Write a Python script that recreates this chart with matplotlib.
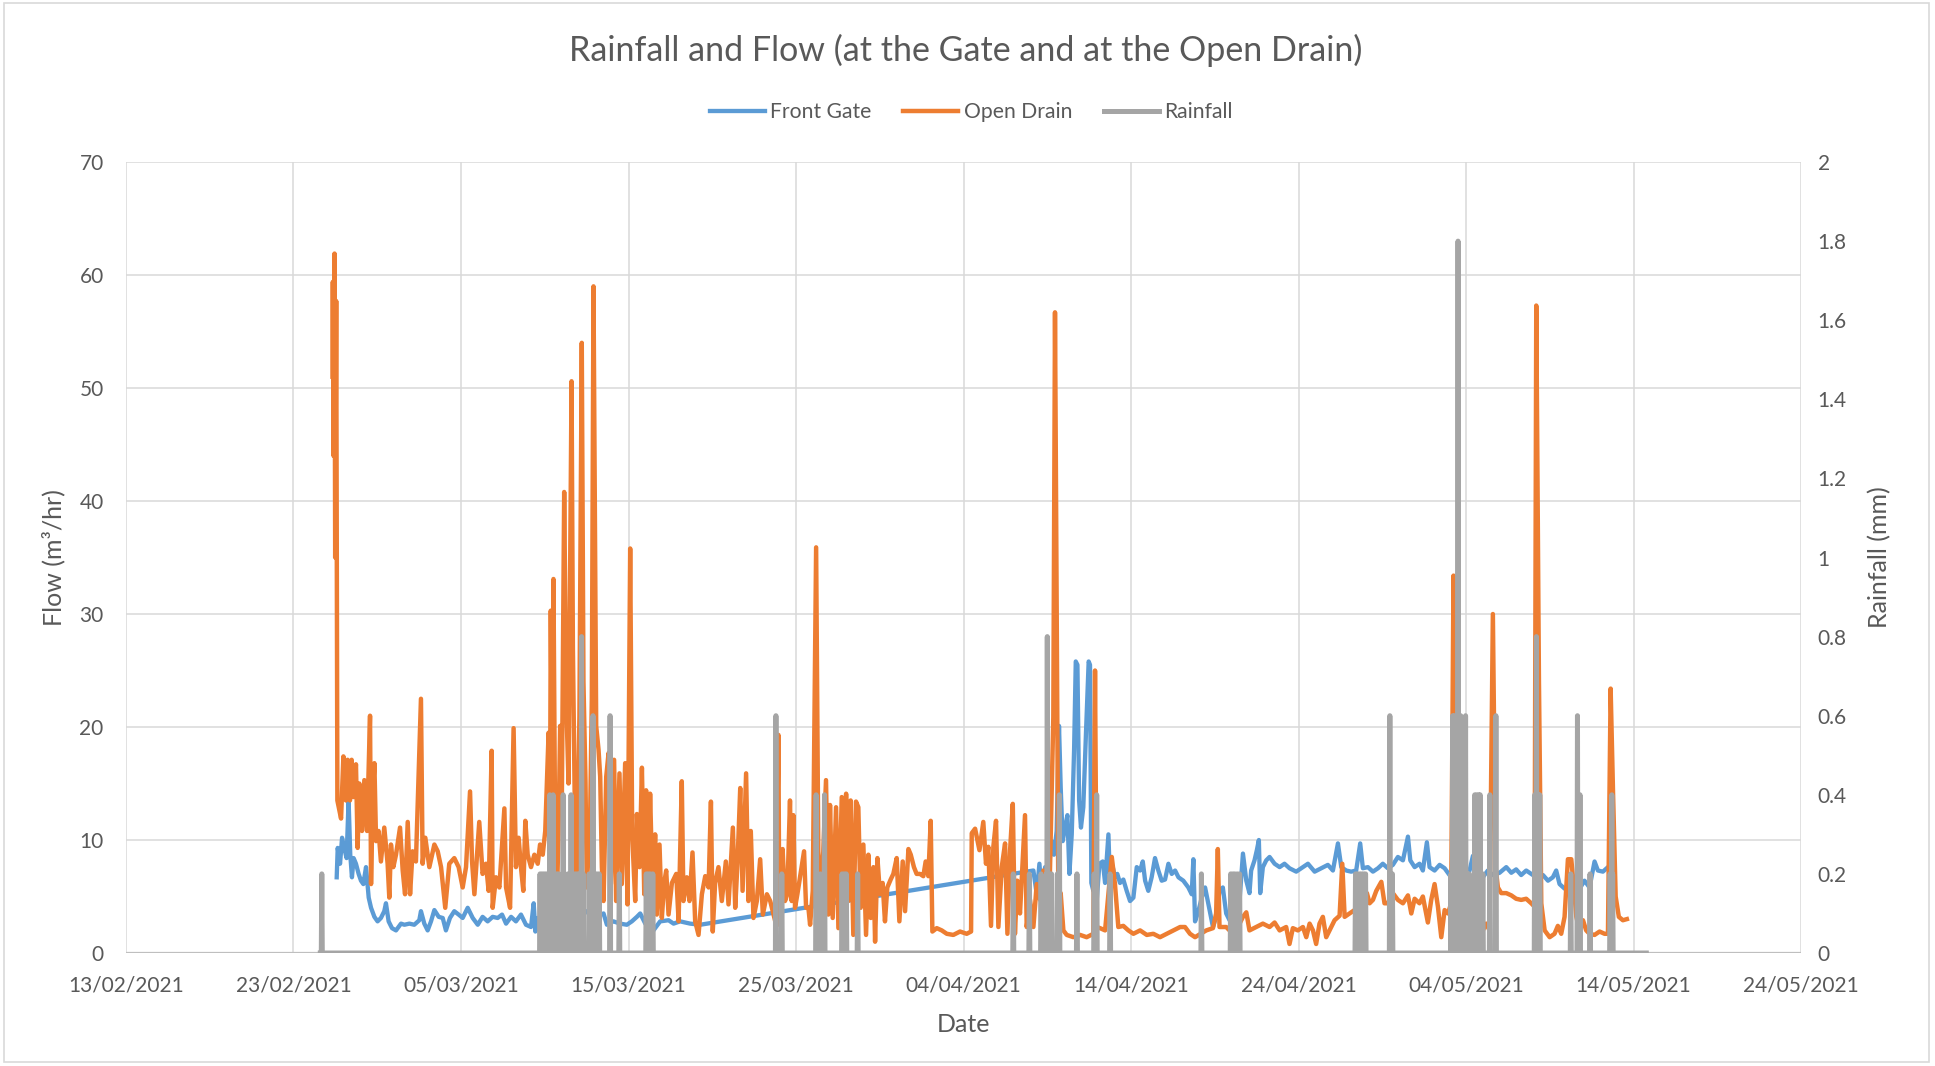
import numpy as np
import pandas as pd
import matplotlib
matplotlib.use("Agg")
import matplotlib.pyplot as plt
import matplotlib.dates as mdates
from matplotlib.patches import Rectangle

plt.rcParams['font.family'] = ['Lato', 'DejaVu Sans']

# all times are days since 13/02/2021 00:00
start = pd.Timestamp('2021-02-13')

gate_days = [12.58, 12.64, 12.78, 12.90, 13.03, 13.17, 13.29, 13.39, 13.49, 13.59, 13.73, 13.89, 14.03, 14.17,
             14.33, 14.49, 14.63, 14.83, 15.02, 15.22, 15.42, 15.52, 15.68, 15.88, 16.12, 16.42, 16.62, 16.92,
             17.21, 17.51, 17.61, 17.81, 18.01, 18.21, 18.41, 18.67, 18.91, 19.10, 19.34, 19.60, 19.86, 20.10,
             20.40, 20.70, 21.00, 21.29, 21.59, 21.89, 22.19, 22.45, 22.69, 22.99, 23.28, 23.58, 23.88, 24.18,
             24.34, 24.44, 24.58, 25.52, 25.92, 26.32, 26.92, 27.51, 27.91, 28.51, 28.71, 29.10, 29.50, 29.90,
             30.20, 30.50, 30.70, 31.00, 31.49, 31.89, 32.39, 32.69, 33.08, 33.68, 34.28,
             54.17, 54.37, 54.53, 54.67, 54.87, 55.06, 55.26, 55.40, 55.56, 55.70, 55.80, 55.92, 56.06, 56.20,
             56.32, 56.46, 56.60, 56.70, 56.80, 56.90, 57.01, 57.15, 57.31, 57.47, 57.55, 57.63, 57.75, 57.85,
             57.95, 58.11, 58.31, 58.45, 58.65, 58.75, 58.91, 59.04, 59.18, 59.34, 59.54, 59.74, 59.94, 60.14,
             60.34, 60.54, 60.70, 60.84, 61.03, 61.23, 61.43, 61.63, 61.83, 62.03, 62.23, 62.43, 62.63, 62.83,
             63.12, 63.42, 63.62, 63.72, 63.82, 64.02, 64.22, 64.42, 64.89, 65.08, 65.28, 65.48, 65.68, 65.88,
             66.08, 66.28, 66.48, 66.68, 66.88, 67.07, 67.17, 67.37, 67.51, 67.63, 67.71, 67.87, 68.07, 68.27,
             68.57, 68.87, 69.16, 69.46, 69.86, 70.26, 70.56, 70.96, 71.35, 71.75, 72.05, 72.35, 72.55, 72.85,
             73.14, 73.44, 73.68, 73.84, 74.14, 74.44, 74.74, 75.03, 75.33, 75.63, 75.93, 76.23, 76.53, 76.67,
             76.93, 77.22, 77.42, 77.66, 77.82, 78.12, 78.42, 78.72, 79.01, 79.31, 79.61, 79.91, 80.21, 80.41,
             80.71, 81.00, 81.30, 81.60, 82.00, 82.40, 82.70, 82.99, 83.29, 83.59, 83.89, 84.19, 84.59, 84.89,
             85.18, 85.38, 85.58, 85.88, 86.18, 86.48, 86.78, 87.07, 87.37, 87.67, 87.87, 88.17, 88.47, 88.77]
gate_flow = [6.7, 9.3, 7.9, 10.2, 9.3, 8.4, 13.5, 8.7, 6.7, 8.4, 7.9, 7.0, 6.4, 6.1,
             7.6, 4.9, 4.0, 3.2, 2.8, 3.1, 3.7, 4.4, 2.8, 2.2, 2.0, 2.6, 2.5, 2.6,
             2.5, 2.9, 3.7, 2.6, 2.0, 2.8, 3.8, 3.2, 3.1, 2.0, 3.1, 3.7, 3.4, 3.1,
             4.0, 3.1, 2.5, 3.2, 2.8, 3.2, 3.1, 3.4, 2.6, 3.2, 2.8, 3.4, 2.5, 2.3,
             4.4, 1.9, 3.1, 3.4, 2.5, 2.6, 2.9, 3.7, 3.1, 3.5, 2.5, 2.8, 2.6, 2.5,
             2.8, 3.2, 3.5, 2.6, 2.0, 2.8, 2.9, 2.6, 2.8, 2.6, 2.5,
             7.3, 5.2, 7.9, 5.2, 7.6, 7.0, 9.9, 8.7, 10.8, 20.1, 14.7, 9.9, 11.1, 12.2,
             7.0, 10.5, 18.0, 25.8, 25.5, 13.5, 11.1, 12.9, 19.5, 25.8, 25.5, 6.2, 5.5, 7.0,
             4.6, 7.9, 8.1, 6.2, 10.5, 5.8, 7.6, 6.7, 7.0, 6.2, 6.5, 5.5, 4.6, 4.9,
             7.6, 7.3, 8.1, 6.4, 5.5, 6.7, 8.4, 7.3, 6.4, 6.5, 7.9, 7.0, 7.3, 6.7,
             6.4, 5.8, 5.2, 8.3, 2.8, 3.7, 4.9, 5.8, 2.3, 3.2, 5.5, 5.8, 3.5, 2.9,
             4.1, 2.9, 4.7, 8.8, 6.4, 5.3, 7.3, 8.2, 9.1, 10.0, 5.3, 7.6, 8.2, 8.5,
             7.9, 7.6, 7.9, 7.5, 7.2, 7.6, 7.9, 7.2, 7.5, 7.8, 7.3, 9.7, 7.6, 7.3,
             7.2, 7.3, 9.7, 7.5, 7.6, 7.2, 7.5, 7.9, 7.5, 7.8, 8.5, 8.2, 10.3, 8.2,
             7.6, 7.9, 7.3, 9.8, 7.6, 7.3, 7.8, 7.5, 6.9, 6.7, 7.3, 6.7, 7.3, 8.6,
             7.6, 6.7, 7.3, 6.9, 7.1, 7.6, 7.1, 7.4, 6.9, 7.3, 7.0, 6.7, 6.9, 6.4,
             6.7, 7.3, 6.1, 5.7, 5.5, 6.1, 5.7, 6.4, 5.8, 8.1, 7.3, 7.2, 7.6, 7.8]

drain_days = [12.33, 12.35, 12.39, 12.45, 12.49, 12.55, 12.62, 12.84, 12.98, 13.13, 13.23, 13.37, 13.47, 13.59,
              13.73, 13.83, 13.93, 14.09, 14.23, 14.39, 14.57, 14.63, 14.73, 14.83, 14.93, 15.08, 15.22, 15.42,
              15.62, 15.72, 15.82, 15.96, 16.12, 16.36, 16.52, 16.66, 16.82, 16.96, 17.11, 17.31, 17.61, 17.71,
              17.87, 18.11, 18.41, 18.61, 18.81, 19.06, 19.30, 19.60, 19.86, 20.10, 20.30, 20.54, 20.66, 20.80,
              21.09, 21.29, 21.49, 21.65, 21.83, 21.89, 22.09, 22.29, 22.59, 22.69, 22.93, 23.14, 23.28, 23.44,
              23.58, 23.72, 23.84, 23.98, 24.18, 24.38, 24.58, 24.72, 24.88, 25.03, 25.23, 25.30, 25.36, 25.44,
              25.52, 25.62, 25.72, 25.82, 25.92, 26.02, 26.16, 26.28, 26.42, 26.60, 26.68, 26.78, 26.88, 26.96,
              27.07, 27.21, 27.31, 27.43, 27.51, 27.71, 27.81, 27.91, 28.07, 28.21, 28.31, 28.41, 28.51, 28.67,
              28.81, 28.95, 29.14, 29.26, 29.46, 29.60, 29.80, 29.94, 30.10, 30.22, 30.40, 30.50, 30.66, 30.80,
              30.94, 31.05, 31.19, 31.29, 31.45, 31.59, 31.69, 31.85, 31.99, 32.13, 32.25, 32.39, 32.59, 32.85,
              32.99, 33.18, 33.28, 33.48, 33.64, 33.82, 33.98, 34.18, 34.38, 34.58, 34.78, 34.92, 35.03, 35.17,
              35.37, 35.57, 35.81, 35.97, 36.23, 36.37, 36.51, 36.67, 36.81, 37.02, 37.16, 37.30, 37.46, 37.66,
              37.86, 38.02, 38.26, 38.46, 38.81, 38.95, 39.00, 39.10, 39.20, 39.34, 39.48, 39.64, 39.74, 39.84,
              39.94, 40.08, 40.24, 40.48, 40.60, 40.74, 40.84, 41.00, 41.20, 41.33, 41.53, 41.79, 41.93, 42.03,
              42.19, 42.39, 42.53, 42.73, 42.87, 42.99, 43.12, 43.26, 43.42, 43.58, 43.72, 43.86, 44.02, 44.18,
              44.32, 44.46, 44.62, 44.72, 44.86, 45.01, 45.17, 45.31, 45.45, 45.65, 45.81, 46.01, 46.17, 46.37,
              46.51, 46.71, 46.85, 47.04, 47.20, 47.40, 47.60, 47.74, 47.90, 48.04, 48.14, 48.40, 48.70, 49.00,
              49.39, 49.79, 50.19, 50.45, 50.49, 50.69, 50.95, 51.18, 51.34, 51.48, 51.64, 51.78, 51.94, 52.08,
              52.28, 52.48, 52.62, 52.78, 52.94, 53.07, 53.21, 53.37, 53.51, 53.67, 53.77, 53.97, 54.17, 54.37,
              54.57, 54.77, 54.97, 55.16, 55.36, 55.46, 55.66, 55.80, 55.96, 56.16, 56.56, 56.96, 57.35, 57.75,
              57.85, 57.95, 58.15, 58.45, 58.85, 59.04, 59.24, 59.54, 59.84, 60.14, 60.54, 60.94, 61.33, 61.73,
              62.13, 62.53, 62.93, 63.22, 63.52, 63.82, 64.49, 64.89, 65.08, 65.18, 65.28, 65.68, 65.88, 66.28,
              66.68, 66.88, 67.07, 67.47, 67.87, 68.27, 68.57, 68.87, 69.26, 69.46, 69.66, 69.96, 70.26, 70.46,
              70.66, 70.86, 71.05, 71.25, 71.45, 71.65, 71.85, 72.15, 72.45, 72.61, 72.75, 73.04, 73.34, 73.64,
              73.84, 74.08, 74.24, 74.44, 74.64, 74.94, 75.13, 75.33, 75.63, 75.93, 76.23, 76.53, 76.73, 76.93,
              77.22, 77.42, 77.72, 77.92, 78.12, 78.32, 78.52, 78.72, 78.92, 79.11, 79.25, 79.31, 79.45, 79.61,
              79.81, 80.01, 80.21, 80.41, 80.61, 80.81, 81.00, 81.20, 81.40, 81.60, 81.76, 81.90, 82.10, 82.40,
              82.70, 82.99, 83.29, 83.59, 83.89, 84.09, 84.19, 84.35, 84.49, 84.69, 84.99, 85.28, 85.48, 85.68,
              85.88, 86.08, 86.28, 86.42, 86.58, 86.78, 86.98, 87.17, 87.37, 87.67, 87.97, 88.27, 88.47, 88.63,
              88.77, 88.93, 89.12, 89.36, 89.60]
drain_flow = [51.0, 59.4, 44.0, 61.9, 35.0, 57.7, 13.5, 11.9, 17.4, 13.5, 17.1, 13.5, 17.1, 13.8,
              16.7, 9.3, 15.0, 10.8, 15.3, 10.8, 21.0, 6.1, 13.8, 16.8, 9.9, 10.8, 8.1, 11.1,
              7.9, 4.9, 9.6, 7.6, 8.7, 11.1, 7.3, 5.2, 11.6, 5.2, 9.0, 8.1, 22.5, 7.9,
              10.2, 7.6, 9.6, 9.0, 7.6, 4.0, 7.9, 8.4, 7.6, 5.8, 7.6, 14.3, 8.1, 5.2,
              11.6, 7.0, 7.9, 5.5, 17.9, 4.0, 6.7, 5.8, 12.8, 5.8, 4.0, 19.9, 7.6, 10.2,
              7.6, 5.5, 11.7, 8.7, 7.6, 8.7, 7.9, 9.6, 8.7, 10.8, 19.5, 6.1, 30.3, 14.1,
              33.1, 10.5, 4.6, 10.5, 20.1, 13.5, 40.8, 22.5, 15.0, 50.6, 27.0, 14.7, 4.6, 10.5,
              21.0, 54.0, 24.0, 15.3, 5.8, 12.0, 22.5, 59.0, 20.1, 18.0, 15.6, 7.6, 4.6, 15.6,
              17.7, 6.1, 17.1, 4.6, 15.9, 6.1, 16.8, 4.3, 35.8, 10.5, 4.6, 12.3, 7.6, 16.4,
              5.2, 14.4, 6.1, 14.1, 4.6, 10.5, 3.4, 9.6, 3.1, 6.2, 7.3, 3.4, 6.2, 7.0,
              2.8, 15.2, 4.6, 6.7, 4.6, 8.9, 2.8, 1.6, 5.2, 6.8, 5.8, 13.4, 1.9, 6.2,
              7.6, 4.6, 8.1, 4.3, 11.1, 4.0, 8.1, 14.6, 5.5, 15.9, 4.6, 10.8, 3.1, 4.6,
              8.3, 3.4, 5.2, 4.6, 2.5, 19.3, 2.5, 6.2, 9.2, 4.6, 5.2, 13.5, 4.6, 12.2,
              4.0, 5.2, 6.7, 9.0, 4.0, 4.0, 2.5, 5.5, 35.9, 9.0, 5.2, 15.3, 3.4, 13.1,
              3.1, 12.9, 2.2, 13.8, 6.2, 14.1, 4.6, 13.5, 1.6, 13.4, 12.9, 4.0, 9.6, 1.6,
              8.7, 3.1, 7.6, 1.0, 8.4, 5.2, 6.2, 2.8, 5.8, 6.5, 7.0, 8.4, 2.8, 8.1,
              3.7, 9.2, 8.7, 7.6, 7.0, 7.0, 6.8, 8.1, 6.8, 11.7, 1.9, 2.2, 2.0, 1.7,
              1.6, 1.9, 1.7, 1.9, 10.6, 11.0, 9.1, 11.6, 7.9, 9.4, 2.4, 9.4, 11.7, 2.3,
              7.6, 9.7, 1.7, 9.1, 13.2, 1.7, 6.4, 3.5, 7.6, 12.2, 2.3, 4.7, 2.3, 6.1,
              4.7, 7.3, 3.2, 7.3, 20.9, 56.7, 4.7, 5.3, 2.0, 1.6, 1.4, 1.6, 1.4, 1.7,
              25.0, 2.3, 2.2, 2.0, 8.5, 6.1, 2.3, 2.4, 2.0, 1.7, 2.0, 1.6, 1.7, 1.4,
              1.7, 2.0, 2.3, 2.3, 1.7, 1.4, 2.0, 2.2, 3.5, 9.2, 2.3, 2.3, 2.0, 2.0,
              3.2, 3.6, 2.0, 2.3, 2.6, 2.3, 2.7, 2.0, 2.3, 0.8, 2.2, 2.0, 2.3, 1.4,
              2.6, 2.0, 0.8, 2.6, 3.2, 1.4, 2.0, 2.9, 3.3, 7.9, 3.2, 3.5, 3.8, 4.2,
              4.4, 5.3, 4.4, 4.7, 5.5, 6.3, 4.4, 4.4, 5.3, 4.7, 4.4, 5.1, 3.5, 4.8,
              4.4, 5.0, 2.7, 4.7, 6.1, 4.1, 1.4, 3.8, 3.5, 4.4, 33.4, 21.2, 3.8, 6.7,
              3.2, 4.7, 3.2, 5.3, 1.7, 10.0, 2.0, 2.6, 2.0, 30.0, 7.6, 5.8, 5.3, 5.3,
              5.1, 4.8, 4.7, 4.8, 4.4, 4.1, 57.3, 24.1, 4.4, 2.0, 1.4, 1.7, 2.4, 1.7,
              3.2, 8.3, 8.3, 6.1, 3.2, 2.0, 2.9, 2.0, 1.7, 1.6, 1.9, 1.7, 1.7, 23.4,
              14.4, 5.0, 3.2, 2.9, 3.0]

# rainfall readings (mm), the line sits at zero between them
rain_first, rain_last = 11.60, 90.76
rain_days = [11.69,
             24.72, 24.84, 24.96, 25.08, 25.20, 25.30, 25.40, 25.50, 25.60, 25.72, 25.84,
             26.10, 26.37, 26.48, 26.57, 26.68, 26.80, 26.92, 27.04, 27.20, 27.30,
             27.65, 27.76, 27.88, 28.00, 28.12, 28.25, 28.90, 29.45,
             31.06, 31.18, 31.30, 31.45,
             38.80, 39.15, 41.20, 41.45, 41.70, 42.75, 42.88, 43.00, 43.68,
             52.97, 53.93, 54.63, 54.95, 55.00, 55.12, 55.25, 55.60, 55.72, 56.77, 57.80, 57.95, 58.75,
             64.20, 65.95, 66.08, 66.20, 66.34, 66.48,
             73.40, 73.52, 73.64, 73.76, 73.88, 74.00, 75.45, 75.60,
             79.10, 79.20, 79.32, 79.44, 79.52, 79.60, 79.68, 79.80, 79.90, 79.97, 80.08, 80.20,
             80.52, 80.64, 80.76, 80.84, 81.00, 81.42, 81.78,
             84.10, 84.20, 84.30, 84.40,
             86.25, 86.65, 86.80, 87.40, 88.60, 88.70, 88.75]
rain_mm = [0.2,
           0.2, 0.2, 0.2, 0.2, 0.2, 0.4, 0.2, 0.4, 0.2, 0.2, 0.2,
           0.4, 0.2, 0.2, 0.4, 0.2, 0.2, 0.2, 0.2, 0.8, 0.2,
           0.2, 0.2, 0.6, 0.2, 0.2, 0.2, 0.6, 0.2,
           0.2, 0.2, 0.2, 0.2,
           0.6, 0.2, 0.4, 0.2, 0.4, 0.2, 0.2, 0.2, 0.2,
           0.2, 0.2, 0.2, 0.2, 0.8, 0.2, 0.2, 0.2, 0.4, 0.2, 0.2, 0.4, 0.2,
           0.2, 0.2, 0.2, 0.2, 0.2, 0.2,
           0.2, 0.2, 0.2, 0.2, 0.2, 0.2, 0.6, 0.2,
           0.2, 0.6, 0.6, 0.6, 1.8, 0.6, 0.6, 0.2, 0.2, 0.6, 0.2, 0.2,
           0.4, 0.4, 0.4, 0.4, 0.2, 0.4, 0.6,
           0.4, 0.8, 0.4, 0.4,
           0.2, 0.6, 0.4, 0.2, 0.2, 0.4, 0.2]

flow_ticks = list(range(0, 71, 10))
rain_ticks = [0, 0.2, 0.4, 0.6, 0.8, 1, 1.2, 1.4, 1.6, 1.8, 2]
date_ticks = pd.date_range('2021-02-13', '2021-05-24', freq='10D')

BLUE = '#5B9BD5'
ORANGE = '#ED7D31'
GREY = '#A5A5A5'
TXT = '#595959'


def to_time(days):
    return start + pd.to_timedelta(np.array(days), unit='D')


# build the rainfall line: each reading is a narrow spike up from zero
eps = 0.03
rx, ry = [rain_first], [0.0]
for d, v in zip(rain_days, rain_mm):
    rx += [d - eps, d, d + eps]
    ry += [0.0, v, 0.0]
rx.append(rain_last)
ry.append(0.0)

fig = plt.figure(figsize=(19.35, 10.66), dpi=100)
ax = fig.add_axes([0.0651, 0.106, 0.8657, 0.742])

l1, = ax.plot(to_time(gate_days), gate_flow, color=BLUE, lw=3.1, solid_joinstyle='round', label='Front Gate')
l2, = ax.plot(to_time(drain_days), drain_flow, color=ORANGE, lw=3.2, solid_joinstyle='round', label='Open Drain')

ax2 = ax.twinx()
l3, = ax2.plot(to_time(rx), ry, color=GREY, lw=3.6, solid_joinstyle='round', label='Rainfall')

ax.set_xlim(date_ticks[0], date_ticks[-1])
ax.set_ylim(0, 70)
ax2.set_ylim(0, 2)
ax.set_yticks(flow_ticks)
ax2.set_yticks(rain_ticks)
ax2.set_yticklabels(['%g' % r for r in rain_ticks])
ax.set_xticks(date_ticks)
ax.xaxis.set_major_formatter(mdates.DateFormatter('%d/%m/%Y'))

ax.grid(True, color='#d9d9d9', lw=1.1)
ax.set_axisbelow(True)
for a in (ax, ax2):
    for s in ['top', 'left', 'right', 'bottom']:
        a.spines[s].set_visible(False)
ax.axhline(0, color='#bfbfbf', lw=1.6, zorder=1.5)

ax.tick_params(axis='both', length=0, labelsize=15, labelcolor=TXT)
ax.tick_params(axis='y', pad=16)
ax.tick_params(axis='x', pad=16.5)
ax2.tick_params(axis='y', length=0, labelsize=15, labelcolor=TXT, pad=12)

ax.set_ylabel('Flow (m³/hr)', fontsize=18, color=TXT)
ax.yaxis.set_label_coords(-0.036, 0.5)
ax2.set_ylabel('Rainfall (mm)', fontsize=18, color=TXT)
ax2.yaxis.set_label_coords(1.040, 0.5)
ax.set_xlabel('Date', fontsize=18, color=TXT)
ax.xaxis.set_label_coords(0.5, -0.076)

fig.text(0.499, 0.953, 'Rainfall and Flow (at the Gate and at the Open Drain)', ha='center', va='center',
         fontsize=24.5, color=TXT)
fig.legend(handles=[l1, l2, l3], loc='center', bbox_to_anchor=(0.502, 0.895), ncol=3, frameon=False,
           fontsize=15.2, labelcolor=TXT, handlelength=2.6, handletextpad=0.25, columnspacing=1.5)

fig.add_artist(Rectangle((0.002, 0.004), 0.995, 0.993, transform=fig.transFigure, fill=False,
                         edgecolor='#d9d9d9', lw=1.2))

fig.savefig('out.png', dpi=100)
